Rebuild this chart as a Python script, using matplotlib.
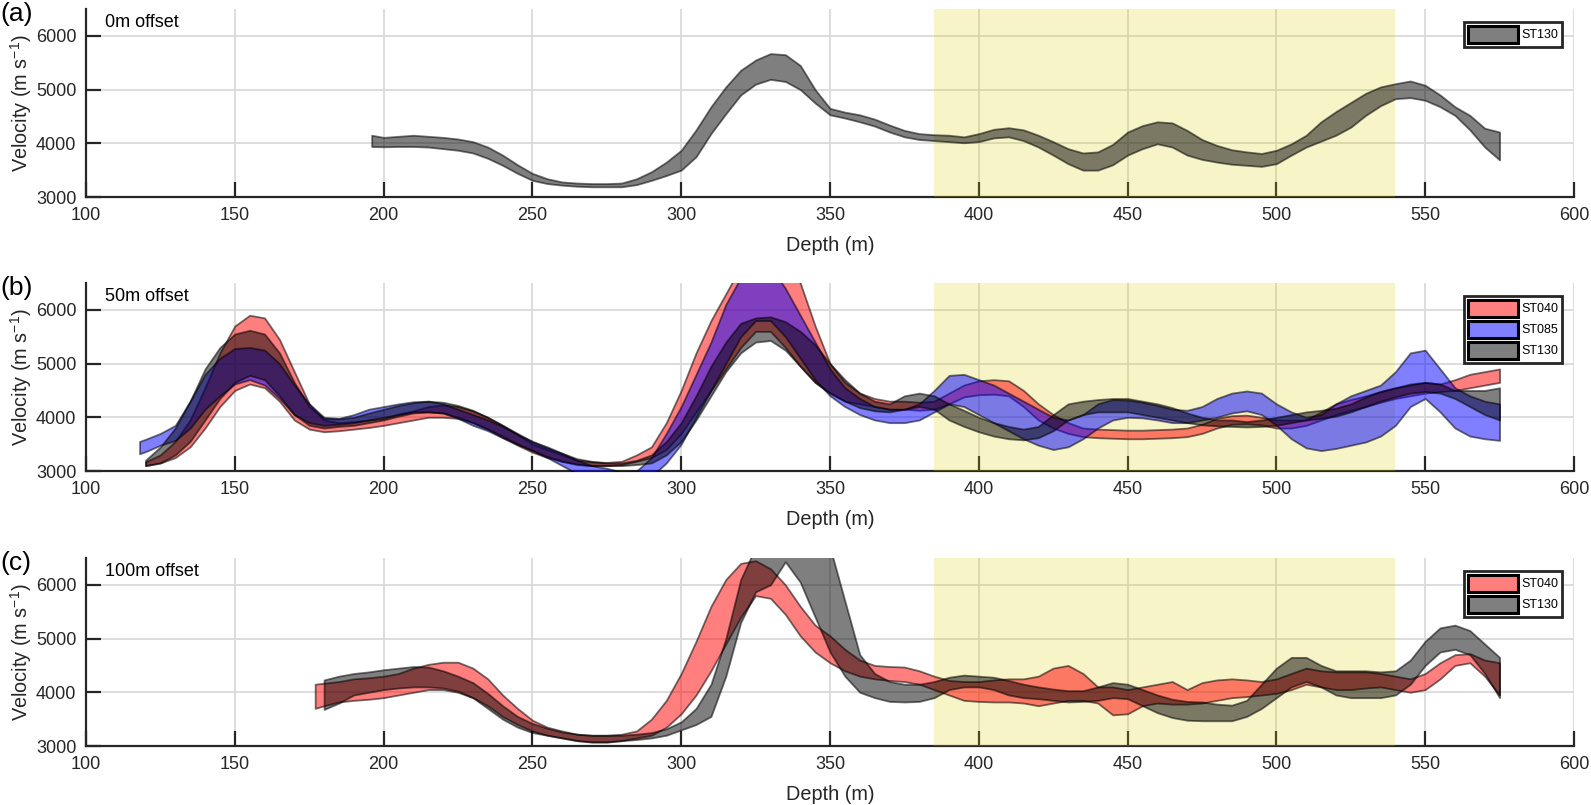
"""
Velocity bands vs depth for three source offsets (0 m, 50 m, 100 m)
"""
import matplotlib
matplotlib.use("Agg")
import matplotlib.pyplot as plt
from matplotlib.colors import to_rgba
from matplotlib.patches import Patch

plt.rcParams["font.family"] = ["Liberation Sans", "DejaVu Sans"]
plt.rcParams["mathtext.fontset"] = "custom"
plt.rcParams["mathtext.rm"] = "Liberation Sans"
plt.rcParams["mathtext.it"] = "Liberation Sans"

# ---------------- data ----------------
# (a) 0 m offset, ST130
a130_depth = [196, 200, 205, 210, 215, 220, 225, 230, 235, 240, 245, 250, 255, 260, 265, 270,
              275, 280, 285, 290, 295, 300, 305, 310, 315, 320, 325, 330, 335, 340, 345, 350,
              355, 360, 365, 370, 375, 380, 385, 390, 395, 400, 405, 410, 415, 420, 425, 430,
              435, 440, 445, 450, 455, 460, 465, 470, 475, 480, 485, 490, 495, 500, 505, 510,
              515, 520, 525, 530, 535, 540, 545, 550, 555, 560, 565, 570, 575]
a130_lo = [3940, 3935, 3940, 3940, 3930, 3900, 3870, 3820, 3720, 3590, 3440, 3310, 3250, 3220,
           3200, 3190, 3190, 3190, 3230, 3310, 3400, 3500, 3750, 4180, 4550, 4900, 5100, 5190,
           5150, 5000, 4750, 4530, 4470, 4400, 4320, 4210, 4120, 4070, 4050, 4030, 4010, 4030,
           4100, 4120, 4050, 3930, 3780, 3620, 3500, 3500, 3600, 3780, 3900, 3990, 3930, 3780,
           3700, 3650, 3610, 3590, 3570, 3620, 3780, 3930, 4040, 4150, 4300, 4520, 4700, 4830,
           4850, 4800, 4680, 4520, 4250, 3930, 3690]
a130_hi = [4150, 4110, 4130, 4150, 4130, 4110, 4080, 4030, 3930, 3780, 3600, 3440, 3340, 3280,
           3260, 3250, 3250, 3260, 3340, 3470, 3650, 3870, 4250, 4680, 5050, 5360, 5550, 5670,
           5650, 5450, 5000, 4650, 4580, 4530, 4450, 4340, 4240, 4180, 4160, 4150, 4120, 4180,
           4260, 4290, 4250, 4150, 4030, 3900, 3820, 3840, 3980, 4210, 4330, 4400, 4380, 4240,
           4070, 3960, 3880, 3840, 3810, 3870, 3990, 4150, 4400, 4590, 4760, 4930, 5050, 5110,
           5160, 5080, 4900, 4680, 4520, 4280, 4210]

# (b) 50 m offset
b_depth = [120, 125, 130, 135, 140, 145, 150, 155, 160, 165, 170, 175, 180, 185, 190, 195,
           200, 205, 210, 215, 220, 225, 230, 235, 240, 245, 250, 255, 260, 265, 270, 275,
           280, 285, 290, 295, 300, 305, 310, 315, 320, 325, 330, 335, 340, 345, 350, 355,
           360, 365, 370, 375, 380, 385, 390, 395, 400, 405, 410, 415, 420, 425, 430, 435,
           440, 445, 450, 455, 460, 465, 470, 475, 480, 485, 490, 495, 500, 505, 510, 515,
           520, 525, 530, 535, 540, 545, 550, 555, 560, 565, 570, 575]
b040_lo = [3100, 3150, 3250, 3450, 3800, 4200, 4500, 4620, 4550, 4300, 3950, 3780, 3730, 3750,
           3780, 3810, 3850, 3900, 3950, 4000, 4000, 3980, 3900, 3780, 3620, 3480, 3350, 3250,
           3180, 3120, 3100, 3100, 3120, 3180, 3250, 3400, 3700, 4100, 4500, 4900, 5300, 5600,
           5600, 5300, 4950, 4650, 4450, 4300, 4250, 4200, 4150, 4150, 4130, 4150, 4250, 4380,
           4420, 4430, 4400, 4200, 3950, 3800, 3700, 3640, 3620, 3610, 3600, 3600, 3610, 3620,
           3640, 3700, 3800, 3870, 3880, 3860, 3800, 3800, 3850, 3950, 4050, 4130, 4200, 4280,
           4350, 4400, 4450, 4480, 4500, 4550, 4600, 4650]
b040_hi = [3170, 3300, 3550, 3950, 4550, 5200, 5700, 5900, 5850, 5450, 4850, 4250, 3950, 3900,
           3920, 3950, 3980, 4060, 4120, 4200, 4230, 4200, 4120, 4000, 3850, 3680, 3500, 3400,
           3300, 3200, 3170, 3160, 3180, 3300, 3450, 3900, 4500, 5200, 5800, 6300, 6800, 7100,
           7100, 6900, 6500, 5700, 5000, 4650, 4450, 4350, 4300, 4300, 4280, 4300, 4450, 4600,
           4680, 4700, 4680, 4500, 4250, 4050, 3900, 3800, 3780, 3770, 3760, 3760, 3770, 3780,
           3800, 3870, 3980, 4030, 4040, 4000, 3950, 3950, 3950, 4100, 4250, 4330, 4400, 4480,
           4550, 4600, 4650, 4620, 4700, 4800, 4850, 4900]
b085_depth = [118] + b_depth
b085_lo = [3320, 3360, 3480, 3570, 3800, 4150, 4400, 4620, 4700, 4600, 4350, 4050, 3900, 3850,
           3870, 3900, 3950, 4000, 4050, 4100, 4100, 4080, 3980, 3850, 3750, 3620, 3500, 3380,
           3250, 3100, 2950, 2850, 2800, 2750, 2800, 2900, 3150, 3500, 4000, 4500, 5000, 5500,
           5800, 5800, 5500, 5100, 4700, 4400, 4200, 4050, 3950, 3900, 3900, 3950, 4100, 4250,
           4200, 4050, 3900, 3750, 3600, 3480, 3400, 3450, 3600, 3800, 3950, 4000, 3990, 3950,
           3900, 3900, 3950, 4000, 4080, 4120, 4050, 3850, 3600, 3430, 3380, 3420, 3480, 3540,
           3650, 3850, 4200, 4350, 4100, 3800, 3650, 3600, 3570]
b085_hi = [3550, 3590, 3700, 3850, 4300, 4800, 5100, 5280, 5300, 5250, 5000, 4600, 4250, 4000,
           3980, 4050, 4150, 4200, 4250, 4290, 4300, 4250, 4150, 4050, 3950, 3830, 3680, 3550,
           3450, 3330, 3200, 3100, 3050, 2980, 3000, 3250, 3700, 4200, 4800, 5400, 6100, 6600,
           7000, 6800, 6400, 5900, 5400, 4900, 4550, 4350, 4200, 4150, 4150, 4250, 4500, 4780,
           4800, 4700, 4600, 4450, 4300, 4150, 4000, 3950, 4050, 4250, 4330, 4320, 4280, 4220,
           4150, 4130, 4200, 4350, 4450, 4490, 4450, 4250, 4100, 4000, 4050, 4250, 4400, 4500,
           4600, 4850, 5200, 5250, 4900, 4550, 4400, 4300, 4250]
b130_lo = [3100, 3150, 3300, 3550, 3950, 4350, 4650, 4780, 4700, 4400, 4050, 3850, 3800, 3830,
           3850, 3900, 3950, 4020, 4080, 4100, 4080, 4000, 3900, 3780, 3650, 3500, 3380, 3270,
           3180, 3130, 3100, 3100, 3100, 3120, 3150, 3300, 3550, 3950, 4400, 4850, 5200, 5400,
           5430, 5250, 4950, 4650, 4450, 4300, 4180, 4120, 4100, 4150, 4200, 4150, 3950, 3830,
           3730, 3650, 3600, 3580, 3620, 3750, 3950, 4050, 4100, 4100, 4100, 4050, 4000, 3950,
           3900, 3860, 3840, 3830, 3820, 3830, 3850, 3900, 3950, 3980, 4020, 4100, 4200, 4300,
           4380, 4450, 4480, 4450, 4350, 4200, 4050, 3950]
b130_hi = [3200, 3450, 3800, 4300, 4900, 5300, 5550, 5620, 5550, 5200, 4650, 4200, 3980, 3970,
           4000, 4080, 4150, 4220, 4270, 4300, 4280, 4220, 4130, 4000, 3850, 3700, 3550, 3430,
           3330, 3230, 3180, 3150, 3150, 3200, 3300, 3550, 3900, 4400, 4950, 5400, 5750, 5850,
           5870, 5780, 5600, 5350, 5000, 4700, 4450, 4300, 4250, 4400, 4450, 4400, 4250, 4130,
           4000, 3900, 3830, 3780, 3830, 4050, 4250, 4300, 4330, 4350, 4350, 4300, 4250, 4180,
           4080, 4000, 3950, 3950, 3920, 3950, 4000, 4050, 4100, 4130, 4170, 4250, 4380, 4480,
           4550, 4620, 4650, 4620, 4500, 4500, 4500, 4550]

# (c) 100 m offset
c040_depth = [177, 180, 185, 190, 195, 200, 205, 210, 215, 220, 225, 230, 235, 240, 245, 250,
              255, 260, 265, 270, 275, 280, 285, 290, 295, 300, 305, 310, 315, 320, 325, 330,
              335, 340, 345, 350, 355, 360, 365, 370, 375, 380, 385, 390, 395, 400, 405, 410,
              415, 420, 425, 430, 435, 440, 445, 450, 455, 460, 465, 470, 475, 480, 485, 490,
              495, 500, 505, 510, 515, 520, 525, 530, 535, 540, 545, 550, 555, 560, 565, 570,
              575]
c040_lo = [3700, 3750, 3820, 3850, 3870, 3900, 3950, 4000, 4050, 4050, 4000, 3900, 3750, 3550,
           3400, 3280, 3200, 3150, 3100, 3080, 3080, 3100, 3150, 3200, 3350, 3600, 3950, 4400,
           4900, 5400, 5800, 5750, 5450, 5050, 4750, 4550, 4400, 4300, 4250, 4220, 4200, 4150,
           4050, 3950, 3850, 3830, 3820, 3820, 3800, 3750, 3800, 3850, 3850, 3800, 3580, 3600,
           3750, 3800, 3780, 3780, 3800, 3850, 3900, 3920, 3950, 3980, 4050, 4150, 4100, 4050,
           4050, 4080, 4100, 4050, 4000, 4050, 4250, 4500, 4550, 4300, 3950]
c040_hi = [4150, 4170, 4200, 4250, 4270, 4300, 4350, 4450, 4520, 4560, 4560, 4450, 4250, 3950,
           3700, 3480, 3350, 3280, 3220, 3200, 3200, 3220, 3280, 3500, 3850, 4350, 4950, 5600,
           6100, 6400, 6450, 6300, 6000, 5600, 5250, 5050, 4800, 4600, 4500, 4480, 4470, 4400,
           4300, 4220, 4200, 4200, 4230, 4250, 4250, 4300, 4450, 4500, 4350, 4100, 4100, 4050,
           4100, 4150, 4200, 4050, 4180, 4230, 4250, 4230, 4200, 4250, 4350, 4450, 4400, 4380,
           4380, 4380, 4350, 4300, 4250, 4350, 4550, 4700, 4720, 4600, 4550]
c130_depth = [180, 185, 190, 195, 200, 205, 210, 215, 220, 225, 230, 235, 240, 245, 250, 255,
              260, 265, 270, 275, 280, 285, 290, 295, 300, 305, 310, 315, 320, 325, 330, 335,
              340, 345, 350, 355, 360, 365, 370, 375, 380, 385, 390, 395, 400, 405, 410, 415,
              420, 425, 430, 435, 440, 445, 450, 455, 460, 465, 470, 475, 480, 485, 490, 495,
              500, 505, 510, 515, 520, 525, 530, 535, 540, 545, 550, 555, 560, 565, 570, 575]
c130_lo = [3680, 3800, 3950, 4000, 4050, 4080, 4100, 4100, 4080, 4020, 3900, 3700, 3500, 3350,
           3250, 3200, 3150, 3100, 3070, 3070, 3100, 3120, 3150, 3200, 3300, 3400, 3550, 4300,
           5300, 5870, 6000, 6430, 6050, 5400, 4750, 4300, 4000, 3900, 3830, 3820, 3830, 3900,
           4050, 4100, 4100, 4050, 3950, 3900, 3880, 3850, 3820, 3830, 3850, 3900, 3880, 3750,
           3620, 3530, 3480, 3470, 3470, 3470, 3550, 3700, 3900, 4100, 4200, 4100, 3950, 3900,
           3900, 3900, 3950, 4150, 4500, 4750, 4800, 4700, 4350, 3900]
c130_hi = [4230, 4300, 4350, 4380, 4420, 4450, 4480, 4470, 4400, 4300, 4180, 3980, 3750, 3550,
           3420, 3330, 3260, 3220, 3200, 3200, 3200, 3220, 3250, 3320, 3450, 3700, 4150, 5000,
           6100, 6700, 6900, 7000, 7000, 7000, 6700, 5700, 4700, 4350, 4200, 4150, 4150, 4200,
           4280, 4320, 4300, 4280, 4220, 4150, 4100, 4060, 4030, 4030, 4100, 4180, 4150, 4050,
           3950, 3870, 3830, 3820, 3780, 3760, 3850, 4150, 4450, 4650, 4650, 4500, 4400, 4400,
           4400, 4380, 4400, 4600, 4950, 5200, 5250, 5150, 4900, 4650]

panel_letters = ["(a)", "(b)", "(c)"]
offset_labels = ["0m offset", "50m offset", "100m offset"]
colors = {"ST040": "red", "ST085": "blue", "ST130": "black"}
target_zone = (385, 540)

panels = [
    [("ST130", a130_depth, a130_lo, a130_hi)],
    [("ST040", b_depth, b040_lo, b040_hi),
     ("ST085", b085_depth, b085_lo, b085_hi),
     ("ST130", b_depth, b130_lo, b130_hi)],
    [("ST040", c040_depth, c040_lo, c040_hi),
     ("ST130", c130_depth, c130_lo, c130_hi)],
]

# ---------------- figure ----------------
fig = plt.figure(figsize=(15.91, 8.05), dpi=100)
W, H = 1591, 805
ax_left, ax_right = 86, 1574
tops = [9, 283, 558]
ax_h = 188
dark = "#262626"

for k, series in enumerate(panels):
    top = tops[k]
    ax = fig.add_axes([ax_left / W, 1 - (top + ax_h) / H, (ax_right - ax_left) / W, ax_h / H])

    # shaded zone sits above grid, ticks and spines but below the bands
    ax.axvspan(*target_zone, color=(0.86, 0.82, 0.02), alpha=0.22, lw=0, zorder=1.5)

    for name, d, lo, hi in series:
        ax.fill_between(d, lo, hi, facecolor=to_rgba(colors[name], 0.5),
                        edgecolor=(0, 0, 0, 0.55), lw=1.3, zorder=2,
                        joinstyle="round")

    ax.set_xlim(100, 600)
    ax.set_ylim(3000, 6500)
    ax.set_xticks(range(100, 601, 50))
    ax.set_yticks([3000, 4000, 5000, 6000])
    ax.set_axisbelow(True)
    ax.grid(True, color="#dadada", lw=1.3)
    for s in ["top", "right"]:
        ax.spines[s].set_visible(False)
    for s in ["bottom", "left"]:
        ax.spines[s].set_color(dark)
        ax.spines[s].set_linewidth(1.6)
        ax.spines[s].set_zorder(1)
    ax.tick_params(direction="in", length=10.5, width=1.6, color=dark,
                   labelsize=13, labelcolor=dark, pad=7)
    ax.set_xlabel("Depth (m)", fontsize=14.3, color=dark, labelpad=9)
    ax.set_ylabel("Velocity (m s$^{-1}$)", fontsize=14.3, color=dark, labelpad=1)

    ax.text(0.013, 0.928, offset_labels[k], transform=ax.transAxes,
            fontsize=13, va="center", ha="left", color="black", zorder=6)
    fig.text(0.0005, 1 - (top - 7) / H, panel_letters[k], fontsize=19,
             va="top", ha="left")

    handles = [Patch(facecolor=to_rgba(colors[n], 0.5), edgecolor="black", lw=2.2)
               for n, *_ in series]
    leg = ax.legend(handles, [n for n, *_ in series], loc="upper right",
                    bbox_to_anchor=(0.992, 0.931), borderaxespad=0, fontsize=9,
                    handlelength=4.0, handleheight=1.75, labelspacing=0.3,
                    handletextpad=0.3, borderpad=0.3, fancybox=False,
                    framealpha=1, edgecolor=dark)
    leg.get_frame().set_linewidth(2.0)
    leg.set_zorder(6)

fig.savefig("out.png", dpi=100)
